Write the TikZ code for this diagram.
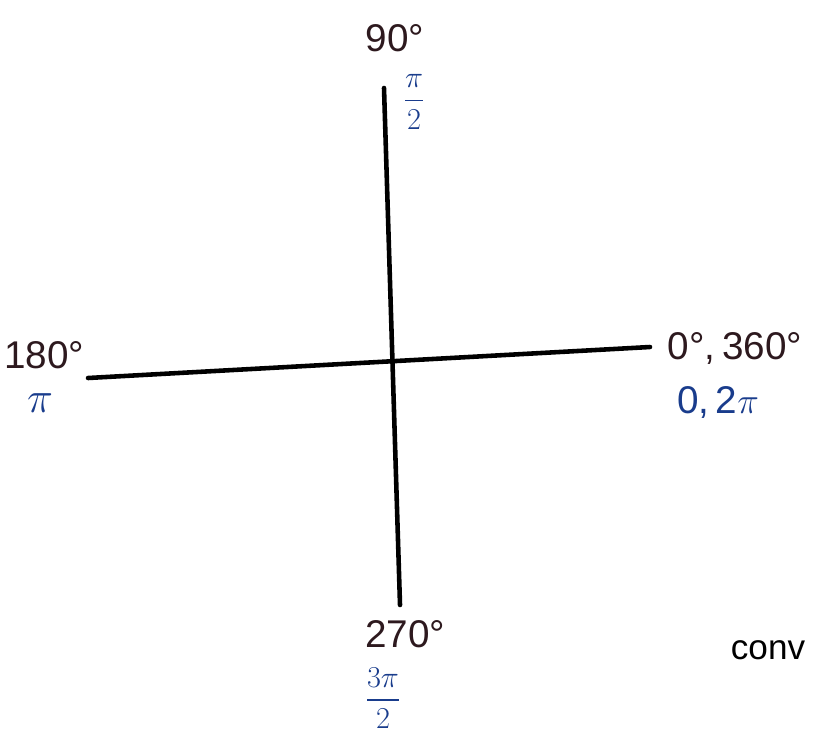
\documentclass[tikz,border=0pt]{standalone}
\usepackage{amsmath}
\usepackage{fontspec}
\setmainfont{Liberation Sans}
\usepackage{xcolor}
\usetikzlibrary{positioning, calc}
\definecolor{cInk}{RGB}{45,25,30}
\definecolor{cBlue}{RGB}{25,60,140}
\tikzset{
	axis/.style    ={line width=2.6pt, black, line cap=round},
	deglbl/.style  ={cInk, font=\fontsize{22}{26}\selectfont, inner sep=0pt},
	radlbl/.style  ={cBlue, font=\fontsize{22}{26}\selectfont, inner sep=0pt},
	fraclbl/.style ={cBlue, font=\fontsize{19}{22}\selectfont, inner sep=0pt},
}

\begin{document}
\begin{tikzpicture}[x=0.02cm, y=-0.02cm]
					\useasboundingbox (0,0) rectangle (813,744);
					% axes
					\coordinate (top) at (384,88);
					\coordinate (bot) at (400,605);
					\coordinate (lft) at (88,378);
					\coordinate (rgt) at (650,347);
					\draw[axis] (top) -- (bot);
					\draw[axis] (lft) -- (rgt);
					% degree labels
					\node[deglbl] (d90) at (395,38) {90°};
					\node[deglbl] (d180) at (44,355) {180°};
					\node[deglbl] (d0) at (735,348) {0°,\,360°};
					\node[deglbl] (d270) at (405,634) {270°};
					% radian labels
					\node[fraclbl] (r90) at (414,102) {$\dfrac{\pi}{2}$};
					\node[radlbl, font=\fontsize{30}{34}\selectfont] (r180) at (40,403) {$\pi$};
					\node[radlbl] (r0) at (718,402) {0,\,2$\pi$};
					\node[fraclbl] (r270) at (383,698) {$\dfrac{3\pi}{2}$};
					% cut off note
					\node[deglbl, black, font=\fontsize{20}{24}\selectfont] (note) at (768,650) {conv};
				\end{tikzpicture}
\end{document}
